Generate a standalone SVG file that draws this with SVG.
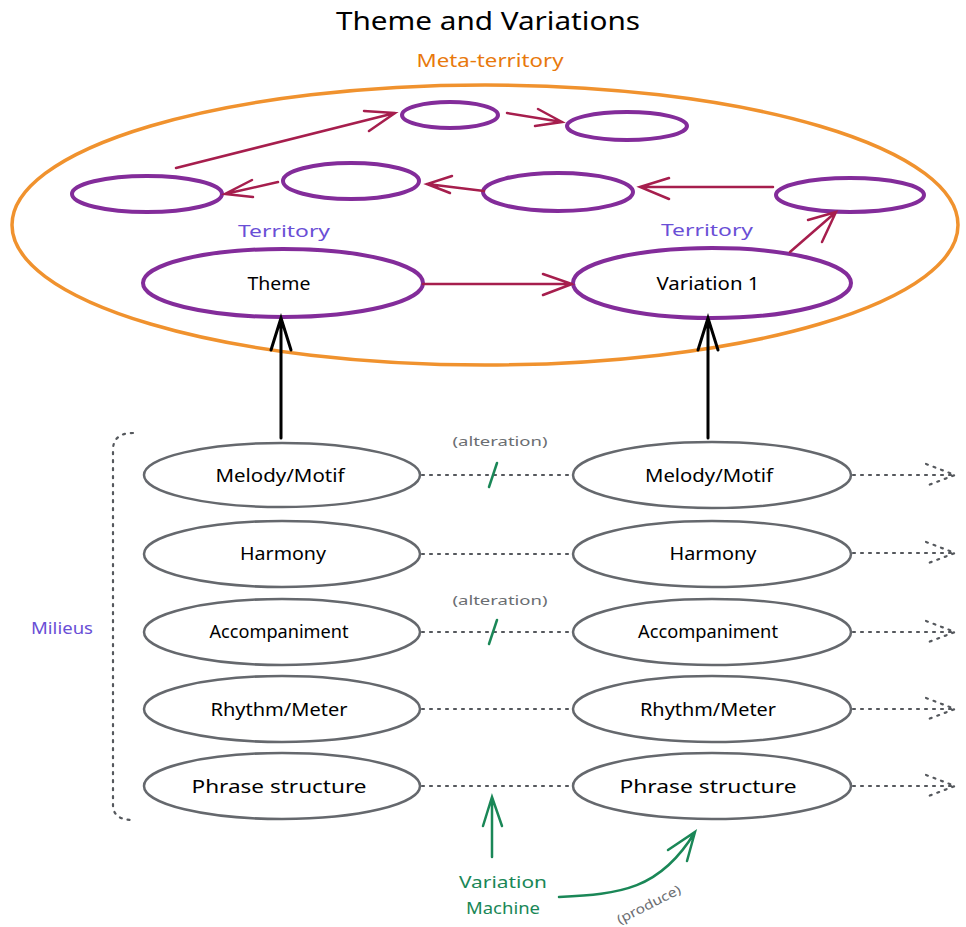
<svg xmlns="http://www.w3.org/2000/svg" width="966" height="927" viewBox="0 0 966 927">
<style>
text{font-family:"Noto Sans","Liberation Sans",sans-serif;text-anchor:middle}
.t{font-size:18px;fill:#000}
.lab{font-size:17px;fill:#6a4fd6}
.alt{font-size:13px;fill:#6b6e72}
.p{fill:none;stroke:#832c9a;stroke-width:4}
.g{fill:none;stroke:#65686d;stroke-width:2.5}
.r{fill:none;stroke:#a61e4d;stroke-width:2.5;stroke-linecap:round}
.k{fill:none;stroke:#000;stroke-width:3;stroke-linecap:round}
.d{fill:none;stroke:#55585d;stroke-width:2.2;stroke-dasharray:2 6;stroke-linecap:round}
.gr{fill:none;stroke:#1a8757;stroke-width:2.5;stroke-linecap:round}
</style>
<rect width="966" height="927" fill="#fff"/>
<text x="488" y="30" style="font-size:26px;fill:#000" textLength="304" lengthAdjust="spacingAndGlyphs">Theme and Variations</text>
<g id="meta">
<ellipse cx="485" cy="225" rx="473" ry="140" fill="none" stroke="#f0922e" stroke-width="3.5"/>
<text x="490" y="67" style="font-size:18px;fill:#e8790c" textLength="147" lengthAdjust="spacingAndGlyphs">Meta-territory</text>
</g>
<g id="ta"><ellipse class="p" cx="450" cy="115" rx="48" ry="13"/></g>
<g id="tb"><ellipse class="p" cx="627" cy="126" rx="60" ry="14"/></g>
<g id="tc"><ellipse class="p" cx="147" cy="194" rx="75" ry="18"/></g>
<g id="td"><ellipse class="p" cx="351" cy="181" rx="68" ry="18"/></g>
<g id="te"><ellipse class="p" cx="558" cy="192" rx="75" ry="19"/></g>
<g id="tf"><ellipse class="p" cx="850" cy="195" rx="74" ry="17"/></g>
<g id="theme">
<text class="lab" x="284" y="237" textLength="92" lengthAdjust="spacingAndGlyphs">Territory</text>
<ellipse class="p" cx="283" cy="283" rx="140" ry="34"/>
<text class="t" x="279" y="290" textLength="63" lengthAdjust="spacingAndGlyphs">Theme</text>
</g>
<g id="var1">
<text class="lab" x="707" y="236" textLength="92" lengthAdjust="spacingAndGlyphs">Territory</text>
<ellipse class="p" cx="712" cy="283" rx="139" ry="35"/>
<text class="t" x="708" y="290" textLength="103" lengthAdjust="spacingAndGlyphs">Variation 1</text>
</g>
<g id="milieus">
<text class="lab" x="62" y="634" textLength="62" lengthAdjust="spacingAndGlyphs">Milieus</text>
<path class="d" d="M133 433 Q113 433 113 450 L113 805 Q113 820 133 820"/>
</g>
<g id="l1"><ellipse class="g" cx="282" cy="475" rx="138" ry="32"/><text class="t" x="280" y="482" textLength="129" lengthAdjust="spacingAndGlyphs">Melody/Motif</text></g>
<g id="l2"><ellipse class="g" cx="282" cy="554" rx="138" ry="33"/><text class="t" x="283" y="560" textLength="86" lengthAdjust="spacingAndGlyphs">Harmony</text></g>
<g id="l3"><ellipse class="g" cx="282" cy="632" rx="138" ry="33"/><text class="t" x="279" y="638" textLength="139" lengthAdjust="spacingAndGlyphs">Accompaniment</text></g>
<g id="l4"><ellipse class="g" cx="282" cy="709" rx="138" ry="33"/><text class="t" x="279" y="716" textLength="137" lengthAdjust="spacingAndGlyphs">Rhythm/Meter</text></g>
<g id="l5"><ellipse class="g" cx="282" cy="786" rx="138" ry="33"/><text class="t" x="279" y="793" textLength="175" lengthAdjust="spacingAndGlyphs">Phrase structure</text></g>
<g id="r1"><ellipse class="g" cx="712" cy="475" rx="139" ry="33"/><text class="t" x="709" y="482" textLength="128" lengthAdjust="spacingAndGlyphs">Melody/Motif</text></g>
<g id="r2"><ellipse class="g" cx="712" cy="554" rx="139" ry="33"/><text class="t" x="713" y="560" textLength="87" lengthAdjust="spacingAndGlyphs">Harmony</text></g>
<g id="r3"><ellipse class="g" cx="712" cy="632" rx="139" ry="33"/><text class="t" x="708" y="638" textLength="140" lengthAdjust="spacingAndGlyphs">Accompaniment</text></g>
<g id="r4"><ellipse class="g" cx="712" cy="709" rx="139" ry="33"/><text class="t" x="708" y="716" textLength="136" lengthAdjust="spacingAndGlyphs">Rhythm/Meter</text></g>
<g id="r5"><ellipse class="g" cx="712" cy="786" rx="139" ry="33"/><text class="t" x="708" y="793" textLength="177" lengthAdjust="spacingAndGlyphs">Phrase structure</text></g>
<g id="machine">
<text x="503" y="888" style="font-size:17px;fill:#1a8757" textLength="88" lengthAdjust="spacingAndGlyphs">Variation</text>
<text x="503" y="914" style="font-size:17px;fill:#1a8757" textLength="74" lengthAdjust="spacingAndGlyphs">Machine</text>
</g>
<g id="connectors">
<path class="r" d="M423 284 L572 284 M543 274 L572 284 L543 295"/>
<path class="r" d="M790 252 L836 212 M808 220 L836 212 L822 242"/>
<path class="r" d="M773 187 L640 187 M669 178 L640 187 L669 199"/>
<path class="r" d="M484 191 L427 184 M452 176 L427 184 L450 193"/>
<path class="r" d="M278 182 L225 194 M252 180 L225 194 L253 197"/>
<path class="r" d="M176 168 L395 113 M364 111 L395 113 L369 131"/>
<path class="r" d="M507 113 L562 122 M538 109 L562 122 L535 126"/>
<path class="k" d="M281 438 L281 318 M271 350 L281 318 L291 350"/>
<path class="k" d="M708 438 L708 318 M698 350 L708 318 L718 350"/>
<path class="d" d="M422 475 L573 475"/>
<path class="d" d="M422 554 L573 554"/>
<path class="d" d="M422 632 L573 632"/>
<path class="d" d="M422 709 L573 709"/>
<path class="d" d="M422 786 L573 786"/>
<path class="d" d="M853 475 L955 475 M926 464 L955 475 L926 486"/>
<path class="d" d="M853 553 L955 553 M926 542 L955 553 L926 564"/>
<path class="d" d="M853 632 L955 632 M926 621 L955 632 L926 643"/>
<path class="d" d="M853 709 L955 709 M926 698 L955 709 L926 720"/>
<path class="d" d="M853 786 L955 786 M926 775 L955 786 L926 797"/>
<text class="alt" x="500" y="446" textLength="95" lengthAdjust="spacingAndGlyphs">(alteration)</text>
<path class="gr" d="M489 487 L497 463"/>
<text class="alt" x="500" y="605" textLength="95" lengthAdjust="spacingAndGlyphs">(alteration)</text>
<path class="gr" d="M489 644 L497 620"/>
<path class="gr" d="M492 857 L492 797 M483 826 L492 797 L502 826"/>
<path class="gr" d="M559 897 C620 894 660 890 695 832 M668 850 L695 832 L687 861"/>
<text class="alt" x="649" y="909" transform="rotate(-27 649 905)" textLength="70" lengthAdjust="spacingAndGlyphs">(produce)</text>
</g>
</svg>
